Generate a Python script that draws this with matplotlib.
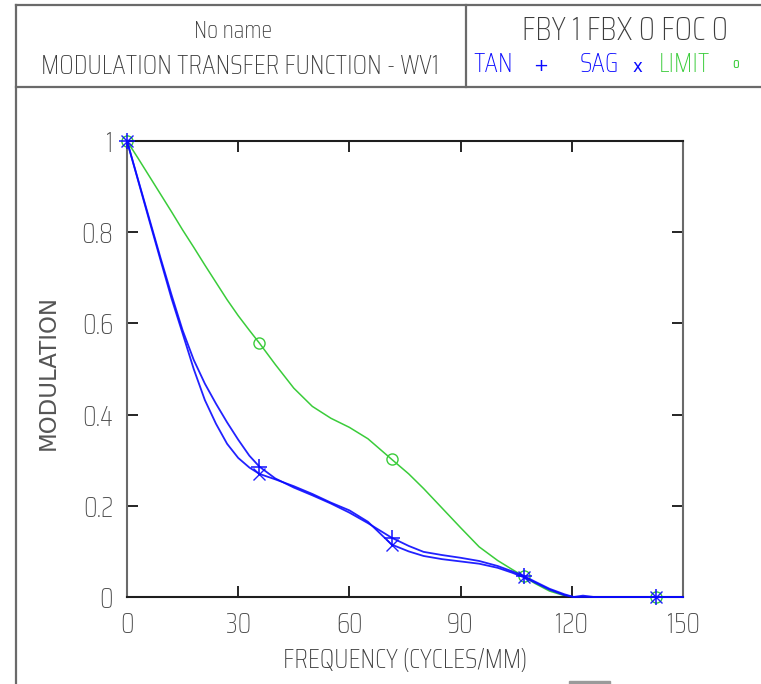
import matplotlib
matplotlib.use("Agg")
import matplotlib.pyplot as plt
from matplotlib.lines import Line2D
from matplotlib.patches import Rectangle

# MTF data (frequency in cycles/mm)
freq = [0, 3, 6, 9, 12, 15, 18, 21, 24, 27, 30, 33, 35.7, 40, 45, 50, 55, 60, 65,
        71.4, 76, 80, 85, 90, 95, 100, 104, 107.1, 110, 114, 118, 120.5, 123, 126,
        142.8, 150]
tan = [1.0, 0.915, 0.83, 0.745, 0.663, 0.585, 0.52, 0.468, 0.424, 0.383, 0.345, 0.31,
       0.286, 0.26, 0.24, 0.223, 0.205, 0.185, 0.162, 0.13, 0.112, 0.099, 0.092,
       0.086, 0.079, 0.068, 0.056, 0.046, 0.034, 0.018, 0.006, 0.0, 0.003, 0.0, 0.0, 0.0]
sag = [1.0, 0.913, 0.826, 0.74, 0.655, 0.578, 0.5, 0.432, 0.38, 0.336, 0.305, 0.284,
       0.27, 0.258, 0.243, 0.226, 0.207, 0.19, 0.165, 0.115, 0.1, 0.09, 0.083, 0.078,
       0.073, 0.064, 0.053, 0.043, 0.032, 0.016, 0.004, 0.0, 0.0, 0.0, 0.0, 0.0]
limit = [1.0, 0.962, 0.923, 0.884, 0.845, 0.805, 0.767, 0.728, 0.69, 0.652, 0.617, 0.585,
         0.557, 0.51, 0.458, 0.418, 0.392, 0.372, 0.347, 0.302, 0.27, 0.238, 0.195,
         0.152, 0.11, 0.08, 0.06, 0.045, 0.03, 0.013, 0.003, 0.0, 0.0, 0.0, 0.0, 0.0]
marker_freq = [0, 35.7, 71.4, 107.1, 142.8]

xticks = [0, 30, 60, 90, 120, 150]
yticks = [0, 0.2, 0.4, 0.6, 0.8, 1.0]
ytick_labels = ["0", "0.2", "0.4", "0.6", "0.8", "1"]

title_left = ["No name", "MODULATION TRANSFER FUNCTION - WV1"]
title_right = "FBY 1 FBX 0 FOC 0"
xlabel = "FREQUENCY (CYCLES/MM)"
ylabel = "MODULATION"

W, H = 761, 684
COND = "Saira Condensed"
BLUE = "#0a0aff"
GREEN = "#3acc3a"

fig = plt.figure(figsize=(W / 100, H / 100), dpi=100)
renderer = fig.canvas.get_renderer()


def px(x, y):
    return x / W, 1 - y / H


def fit_text(x, y, s, width, ha="center", color="#3c3c3c", **kw):
    # put text at pixel position and scale font so it spans `width` pixels
    t = fig.text(*px(x, y), s, ha=ha, va="center", color=color,
                 family=COND, weight="light", fontsize=20, **kw)
    w = t.get_window_extent(renderer).width
    t.set_fontsize(20 * width / w)
    return t


# frame of the report
frame = dict(color="#6a6a6a", lw=1.6, transform=fig.transFigure)
fig.add_artist(Line2D([16 / W, 1], [1 - 5 / H] * 2, **frame))
fig.add_artist(Line2D([16 / W, 1], [1 - 87 / H] * 2, **frame))
fig.add_artist(Line2D([16 / W] * 2, [0, 1 - 5 / H], **frame))
fig.add_artist(Line2D([466 / W] * 2, [1 - 87 / H, 1 - 5 / H], **frame))
fig.add_artist(Rectangle(px(569, 684), 41 / W, 3 / H, color="#9a9a9a",
                         transform=fig.transFigure))

# header texts
fit_text(233, 31, title_left[0], 78)
hs = fit_text(240, 66, title_left[1], 398).get_fontsize()
fit_text(625, 31, title_right, 206)
legend_bits = [(473, "TAN", "left", BLUE), (580, "SAG", "left", BLUE),
               (659, "LIMIT", "left", GREEN)]
for x, s, ha, c in legend_bits:
    fig.text(*px(x, 65), s, ha=ha, va="center", color=c, family=COND,
             weight="light", fontsize=hs)
# marker symbols next to the series names
fig.text(*px(541, 66), "+", ha="center", va="center", color=BLUE,
         family="DejaVu Sans", fontsize=13)
fig.text(*px(637, 67), "x", ha="center", va="center", color=BLUE,
         family="DejaVu Sans", fontsize=12)
fig.text(*px(736, 64), "o", ha="center", va="center", color=GREEN,
         family=COND, fontsize=11)

# plot area
ax = fig.add_axes([127 / W, (H - 597) / H, (683 - 127) / W, (597 - 141) / H])
marks = [freq.index(f) for f in marker_freq]
ax.plot(freq, limit, color=GREEN, lw=1.1, marker="o", ms=8, mfc="none",
        mew=1.0, markevery=marks, clip_on=False, zorder=2)
ax.plot(freq, sag, color=BLUE, lw=1.3, marker="x", ms=9, mew=1.0,
        markevery=marks, clip_on=False, zorder=3, alpha=0.9)
ax.plot(freq, tan, color=BLUE, lw=1.3, marker="+", ms=11, mew=1.2,
        markevery=marks, clip_on=False, zorder=3, alpha=0.9)

ax.set_xlim(0, 150)
ax.set_ylim(0, 1)
ax.set_xticks(xticks)
ax.set_yticks(yticks)
ax.set_yticklabels(ytick_labels)
ax.tick_params(direction="in", length=8, width=1.2, top=True, right=True,
               labelsize=20, labelcolor="#4a4a4a", pad=10)
for lab in ax.get_xticklabels() + ax.get_yticklabels():
    lab.set_family(COND)
    lab.set_weight("light")
for side in ("left", "right"):
    ax.spines[side].set_color("#6a6a6a")
for side in ("top", "bottom"):
    ax.spines[side].set_color("#1e1e1e")
for sp in ax.spines.values():
    sp.set_linewidth(1.5)

fit_text(405, 661, xlabel, 244)
fig.text(*px(48, 372), ylabel, rotation=90, ha="center", va="center",
         color="#555555", family="DejaVu Sans", fontsize=16.5)

fig.savefig("out.png", dpi=100)
